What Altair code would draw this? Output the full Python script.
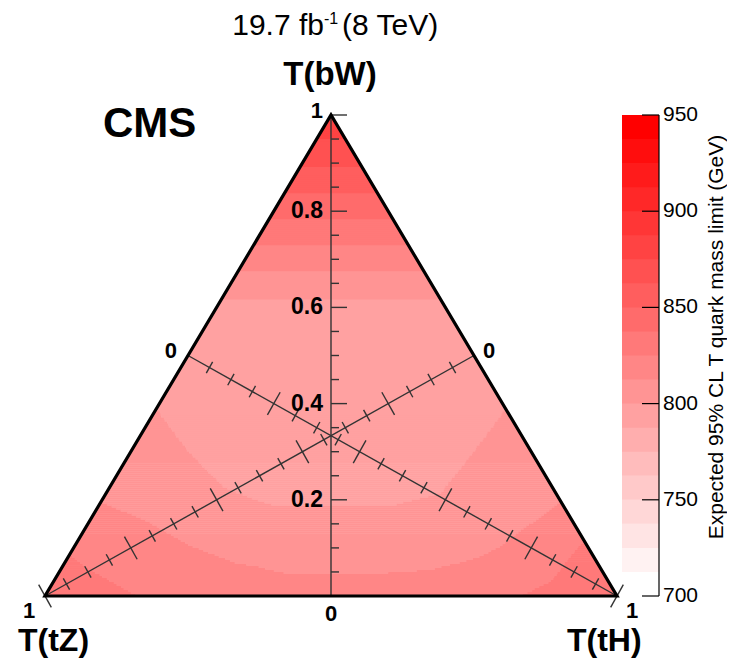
import altair as alt
import numpy as np
import pandas as pd

# ---------------- data ----------------
# Expected 95% CL T mass limit (GeV) on a ternary grid.
# One list per B(T->bW) value (0.0 ... 1.0, step 0.1); entries run over B(T->tH) = 0, 0.1, ...
mass_bw00 = [836, 828, 823, 820, 818, 818, 818, 819, 823, 829, 836]
mass_bw01 = [823, 818, 813, 809, 806, 806, 807, 810, 816, 827]
mass_bw02 = [812, 808, 802, 799, 799, 799, 801, 806, 812]
mass_bw03 = [808, 800, 794, 792, 792, 794, 800, 808]
mass_bw04 = [799, 796, 793, 792, 793, 796, 799]
mass_bw05 = [796, 794, 793, 793, 794, 796]
mass_bw06 = [796, 796, 796, 796, 796]
mass_bw07 = [818, 818, 818, 818]
mass_bw08 = [841, 841, 841]
mass_bw09 = [864, 864]
mass_bw10 = [886]
mass_rows = [mass_bw00, mass_bw01, mass_bw02, mass_bw03, mass_bw04, mass_bw05,
             mass_bw06, mass_bw07, mass_bw08, mass_bw09, mass_bw10]
grid_step = 0.1

z_min, z_max, n_levels = 700.0, 950.0, 20
cbar_ticks = [700, 750, 800, 850, 900, 950]
bw_labels = [0.2, 0.4, 0.6, 0.8]
axis_tick_step = 0.05

# ---------------- layout helpers (page pixels -> ternary units) ----------------
X_LEFT, X_RIGHT, Y_BASE, Y_TOP = 45.0, 617.0, 596.0, 115.0
SX = X_RIGHT - X_LEFT
SY = Y_BASE - Y_TOP


def PX(px):
    return (px - X_LEFT) / SX


def PY(py):
    return (Y_BASE - py) / SY


W, H = 719, 650
xs = alt.Scale(domain=[PX(8), PX(8 + W)], nice=False, zero=False)
ys = alt.Scale(domain=[PY(8 + H), PY(8)], nice=False, zero=False)
cs = alt.Scale(domain=[z_min + 0.5 * (z_max - z_min) / n_levels,
                       z_max - 0.5 * (z_max - z_min) / n_levels],
               range=["#ffffff", "#ff0000"], interpolate="rgb")


def mass_at(bw, th):
    i = bw / grid_step
    j = th / grid_step
    a = int(min(max(np.floor(i), 0), 9))
    b = int(min(max(np.floor(j), 0), 9 - a))
    fi, fj = i - a, j - b
    V = lambda p, q: mass_rows[p][q]
    if fi + fj <= 1 or a + b + 2 > 10:
        return V(a, b) * (1 - fi - fj) + V(a + 1, b) * fi + V(a, b + 1) * fj
    return V(a + 1, b + 1) * (fi + fj - 1) + V(a + 1, b) * (1 - fj) + V(a, b + 1) * (1 - fi)


def level_mid(k):
    return z_min + (k + 0.5) * (z_max - z_min) / n_levels


# ---------------- filled contour cells ----------------
N_ROWS, N_COLS = 240, 300
ex, ey = 0.6 / SX, 0.6 / SY
cells = []
for r in range(N_ROWS):
    y0, y1 = r / N_ROWS, (r + 1) / N_ROWS
    yc = 0.5 * (y0 + y1)
    xl, xr = yc / 2, 1 - yc / 2
    m = max(1, int(round((xr - xl) * N_COLS)))
    edges = np.linspace(xl, xr, m + 1)
    ks = []
    for c in range(m):
        xc = 0.5 * (edges[c] + edges[c + 1])
        v = mass_at(yc, xc - yc / 2)
        ks.append(int(np.clip(np.floor((v - z_min) / (z_max - z_min) * n_levels), 0, n_levels - 1)))
    s = 0
    for c in range(1, m + 1):
        if c == m or ks[c] != ks[s]:
            cells.append(dict(x=edges[s], x2=edges[c] + (ex if c < m else 0.0),
                              y=y0, y2=y1 + ey, z=level_mid(ks[s])))
            s = c
cells = pd.DataFrame(cells)

cell_layer = alt.Chart(cells).mark_rect(strokeWidth=0).encode(
    x=alt.X("x:Q", scale=xs, axis=None), x2="x2:Q",
    y=alt.Y("y:Q", scale=ys, axis=None), y2="y2:Q",
    color=alt.Color("z:Q", scale=cs, legend=None))

# ---------------- colour bar ----------------
def cbar_y(v):
    return (v - z_min) / (z_max - z_min)


cbar = pd.DataFrame([dict(x=PX(622), x2=PX(659),
                          y=cbar_y(z_min + k * (z_max - z_min) / n_levels),
                          y2=cbar_y(z_min + (k + 1) * (z_max - z_min) / n_levels) + (ey if k < n_levels - 1 else 0),
                          z=level_mid(k)) for k in range(n_levels)])
cbar_layer = alt.Chart(cbar).mark_rect(strokeWidth=0).encode(
    x=alt.X("x:Q", scale=xs, axis=None), x2="x2:Q",
    y=alt.Y("y:Q", scale=ys, axis=None), y2="y2:Q",
    color=alt.Color("z:Q", scale=cs, legend=None))

# ---------------- axis lines and ticks ----------------
segs_axis = []
segs_axis.append(dict(x=0.5, x2=0.5, y=0.0, y2=1.0))
n_t = int(round(1 / axis_tick_step))
for i in range(1, n_t + 1):
    t = i * axis_tick_step
    L = 16 if i % 4 == 0 else 8
    segs_axis.append(dict(x=0.5, x2=0.5 + L / SX, y=t, y2=t))

for (p0, p1) in [((0.25, 0.5), (1.0, 0.0)), ((0.75, 0.5), (0.0, 0.0))]:
    segs_axis.append(dict(x=p0[0], x2=p1[0], y=p0[1], y2=p1[1]))
    dx, dy = (p1[0] - p0[0]) * SX, -(p1[1] - p0[1]) * SY
    ln = np.hypot(dx, dy)
    nx, ny = -dy / ln, dx / ln
    for i in range(1, n_t + 1):
        t = i * axis_tick_step
        h = 13 if i % 4 == 0 else 6.5
        cx = p0[0] + t * (p1[0] - p0[0])
        cy = p0[1] + t * (p1[1] - p0[1])
        segs_axis.append(dict(x=cx - nx * h / SX, x2=cx + nx * h / SX,
                              y=cy + ny * h / SY, y2=cy - ny * h / SY))
segs_axis = pd.DataFrame(segs_axis)
axis_layer = alt.Chart(segs_axis).mark_rule(color="#333333", strokeWidth=1.4).encode(
    x=alt.X("x:Q", scale=xs, axis=None), x2="x2:Q",
    y=alt.Y("y:Q", scale=ys, axis=None), y2="y2:Q")

segs_cbar = [dict(x=PX(659), x2=PX(659), y=cbar_y(z_min), y2=cbar_y(z_max))]
for v in cbar_ticks:
    segs_cbar.append(dict(x=PX(642), x2=PX(659), y=cbar_y(v), y2=cbar_y(v)))
segs_cbar = pd.DataFrame(segs_cbar)
cbar_axis_layer = alt.Chart(segs_cbar).mark_rule(color="#000000", strokeWidth=1.2).encode(
    x=alt.X("x:Q", scale=xs, axis=None), x2="x2:Q",
    y=alt.Y("y:Q", scale=ys, axis=None), y2="y2:Q")

# ---------------- triangle outline ----------------
tri = pd.DataFrame(dict(x=[0.0, 1.0, 0.5, 0.0, 1.0], y=[0.0, 0.0, 1.0, 0.0, 0.0], o=[0, 1, 2, 3, 4]))
tri_layer = alt.Chart(tri).mark_line(color="black", strokeWidth=3.2, strokeJoin="miter").encode(
    x=alt.X("x:Q", scale=xs, axis=None), y=alt.Y("y:Q", scale=ys, axis=None), order="o:O")

# ---------------- texts ----------------
FONT = "Liberation Sans"


def text_layer(rows, **kw):
    df = pd.DataFrame(rows, columns=["text", "x", "y"])
    return alt.Chart(df).mark_text(font=FONT, color="black", **kw).encode(
        x=alt.X("x:Q", scale=xs, axis=None), y=alt.Y("y:Q", scale=ys, axis=None), text="text:N")


t_lumi_a = text_layer([["19.7 fb", PX(324), PY(35)]], fontSize=30, align="right", baseline="alphabetic")
t_lumi_b = text_layer([["-1", PX(324), PY(24)]], fontSize=16, align="left", baseline="alphabetic")
t_lumi_c = text_layer([["(8 TeV)", PX(342), PY(35)]], fontSize=30, align="left", baseline="alphabetic")
t_cms = text_layer([["CMS", PX(103), PY(137)]], fontSize=42, fontWeight="bold", align="left", baseline="alphabetic")
t_corner_c = text_layer([["T(bW)", PX(330), PY(85)]], fontSize=33, fontWeight="bold", align="center", baseline="alphabetic")
t_corner_l = text_layer([["T(tZ)", PX(18), PY(651)], ["T(tH)", PX(567), PY(651)]],
                        fontSize=32, fontWeight="bold", align="left", baseline="alphabetic")

t_bw = text_layer([[f"{v:.1f}", PX(323), v] for v in bw_labels],
                  fontSize=23, fontWeight="bold", align="right", baseline="middle")
t_ends_r = text_layer([["1", PX(323), PY(118)], ["0", PX(177), PY(358)]],
                      fontSize=22, fontWeight="bold", align="right", baseline="alphabetic")
t_ends_c = text_layer([["0", PX(331), PY(621)], ["1", PX(29), PY(618)], ["1", PX(632), PY(618)]],
                      fontSize=22, fontWeight="bold", align="center", baseline="alphabetic")
t_ends_l = text_layer([["0", PX(483), PY(358)]],
                      fontSize=22, fontWeight="bold", align="left", baseline="alphabetic")

t_cbar = text_layer([[str(v), PX(663), cbar_y(v)] for v in cbar_ticks],
                    fontSize=21, align="left", baseline="middle")
t_cbar_title = text_layer([["Expected 95% CL T quark mass limit (GeV)", PX(722.5), PY(337)]],
                          fontSize=21, align="center", baseline="alphabetic", angle=270)

chart = alt.layer(
    cell_layer, cbar_layer, axis_layer, cbar_axis_layer, tri_layer,
    t_lumi_a, t_lumi_b, t_lumi_c, t_cms, t_corner_c, t_corner_l,
    t_bw, t_ends_r, t_ends_c, t_ends_l, t_cbar, t_cbar_title,
).properties(
    width=W, height=H, padding=0,
    autosize=alt.AutoSizeParams(type="none"),
    background="white",
).configure_view(stroke=None)

chart.save("out.html", embed_options={"renderer": "svg", "actions": False})
